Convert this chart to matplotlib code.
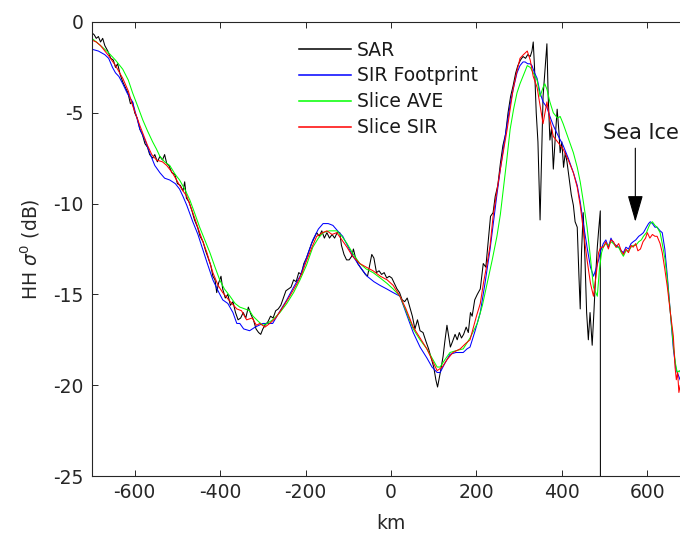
import numpy as np
import matplotlib
matplotlib.use('Agg')
from matplotlib import pyplot as plt

plt.rcParams['font.family'] = 'DejaVu Sans'
plt.rcParams['mathtext.fontset'] = 'dejavusans'
plt.rcParams['axes.unicode_minus'] = False

"""
Daten (abgelesen)
"""
# SAR
sar_km = [-700, -695, -690, -685, -680, -675, -670, -663, -656, -650, -645, -640, -634, -628, -622, -616,
          -610, -605, -600, -594, -588, -582, -576, -570, -565, -558, -553, -547, -541, -535, -530, -525,
          -520, -513, -506, -500, -493, -487, -483, -479, -473, -466, -460, -453, -447, -440, -434, -428,
          -422, -417, -412, -408, -404, -398, -394, -388, -382, -376, -370, -364, -358, -352, -346, -340,
          -334, -328, -322, -316, -310, -305, -300, -295, -288, -282, -276, -270, -264, -258, -252, -246,
          -240, -234, -228, -222, -216, -210, -204, -198, -192, -186, -180, -174, -168, -162, -156, -150,
          -144, -138, -132, -126, -120, -116, -110, -104, -98, -92, -88, -84, -78, -72, -66, -60,
          -55, -50, -45, -40, -34, -28, -22, -16, -10, -4, 2, 8, 14, 20, 26, 32,
          38, 44, 50, 56, 62, 68, 75, 82, 88, 94, 100, 105, 109, 113, 117, 122,
          126, 131, 135, 139, 144, 150, 155, 160, 165, 170, 176, 181, 186, 190, 196, 202,
          209, 216, 222, 228, 233, 239, 244, 250, 256, 262, 268, 274, 280, 286, 292, 297,
          303, 309, 315, 320, 326, 330, 333, 336, 340, 344, 349, 352, 356, 361, 365, 368,
          372, 376, 380, 385, 389, 393, 396, 400, 404, 408, 412, 417, 422, 427, 431, 436,
          440, 443, 446, 450, 454, 458, 462, 466, 471, 475, 479, 483, 486, 490, 490.5]
sar_db = [-0.6, -0.7, -0.9, -0.8, -1.1, -0.9, -1.3, -1.6, -2.0, -2.1, -2.5, -2.3, -2.9, -3.3, -3.6, -3.9,
          -4.5, -4.4, -5.0, -5.3, -5.9, -6.2, -6.7, -6.9, -7.3, -7.5, -7.3, -7.7, -7.4, -7.6, -7.3, -7.8,
          -7.9, -8.3, -8.4, -8.9, -9.0, -9.3, -8.8, -9.7, -9.9, -10.4, -10.9, -11.3, -11.8, -12.1, -12.6, -13.0,
          -13.4, -14.0, -14.2, -14.9, -14.4, -14.0, -14.7, -15.2, -15.0, -15.6, -15.4, -16.0, -16.4, -16.3, -16.0, -16.3,
          -15.7, -16.1, -16.4, -16.9, -17.1, -17.2, -16.9, -16.7, -16.5, -16.2, -16.3, -15.9, -15.8, -15.6, -15.2, -14.8,
          -14.7, -14.6, -14.2, -14.3, -13.8, -13.9, -13.3, -13.0, -12.6, -12.2, -11.9, -11.6, -11.8, -11.5, -11.9, -11.6,
          -11.9, -11.7, -11.9, -11.6, -11.6, -12.3, -12.8, -13.1, -13.1, -12.9, -12.5, -12.9, -13.3, -13.5, -13.7, -13.9,
          -14.0, -13.4, -12.8, -13.0, -13.8, -13.7, -13.9, -13.8, -14.1, -14.0, -14.1, -14.4, -14.7, -14.9, -15.3, -15.4,
          -15.2, -15.7, -16.2, -16.9, -16.4, -17.0, -17.1, -17.6, -18.0, -18.5, -19.0, -19.7, -20.1, -19.6, -19.1, -18.4,
          -17.6, -16.7, -17.3, -17.9, -17.6, -17.2, -17.5, -17.1, -17.4, -17.2, -16.8, -17.1, -16.0, -16.2, -15.3, -15.0,
          -14.7, -13.3, -13.5, -12.0, -10.7, -10.5, -9.6, -9.0, -7.8, -6.8, -6.2, -5.0, -4.1, -3.5, -2.8, -2.4,
          -2.1, -1.9, -2.0, -1.8, -1.9, -1.6, -1.1, -2.5, -5.0, -6.6, -10.9, -8.0, -4.1, -2.5, -1.2, -4.1,
          -6.5, -5.8, -8.1, -6.2, -4.8, -6.0, -7.2, -6.6, -8.0, -7.2, -7.7, -8.6, -9.5, -10.1, -11.0, -11.3,
          -14.0, -15.8, -12.7, -10.5, -13.0, -16.0, -17.5, -16.0, -17.8, -16.0, -14.0, -12.4, -11.5, -10.4, -40.0]

# SIR Footprint
fp_km = [-700, -685, -670, -661, -652, -645, -637, -628, -618, -605, -596, -588, -576, -565, -553, -541,
         -530, -518, -505, -495, -487, -478, -464, -452, -441, -430, -417, -405, -394, -382, -370, -361,
         -354, -345, -331, -318, -300, -284, -277, -262, -244, -228, -213, -198, -183, -170, -159, -147,
         -136, -125, -113, -100, -89, -72, -56, -40, -26, -10, 5, 21, 35, 52, 68, 84,
         96, 108, 115, 126, 138, 152, 169, 178, 185, 197, 209, 220, 232, 240, 248, 256,
         264, 272, 280, 288, 295, 302, 309, 314, 320, 326, 330, 336, 342, 349, 356, 365,
         372, 380, 390, 403, 415, 427, 436, 443, 451, 459, 467, 474, 480, 486, 491, 497,
         503, 509, 515, 521, 527, 533, 539, 544, 550, 556, 562, 567, 573, 580, 586, 591,
         598, 603, 607, 612, 618, 623, 630, 635, 641, 647, 654, 661, 667, 672, 677, 680]
fp_db = [-1.5, -1.6, -1.8, -2.0, -2.5, -2.8, -3.0, -3.4, -3.9, -4.4, -5.2, -5.9, -6.5, -7.2, -7.9, -8.3,
         -8.6, -8.7, -8.9, -9.2, -9.6, -10.1, -11.0, -11.7, -12.5, -13.3, -14.2, -14.8, -15.3, -15.5, -16.0, -16.6,
         -16.6, -16.9, -17.0, -16.8, -16.6, -16.6, -16.6, -16.0, -15.3, -14.6, -14.0, -13.0, -12.0, -11.4, -11.1, -11.1,
         -11.2, -11.5, -11.8, -12.4, -12.9, -13.5, -14.0, -14.3, -14.5, -14.7, -14.9, -15.1, -16.0, -17.1, -17.9, -18.5,
         -19.0, -19.3, -19.3, -18.8, -18.3, -18.2, -18.2, -18.0, -17.9, -17.0, -16.0, -14.4, -12.5, -11.0, -9.5, -8.1,
         -6.8, -5.6, -4.4, -3.5, -2.8, -2.4, -2.2, -2.2, -2.3, -2.3, -2.4, -2.8, -3.1, -3.9, -4.4, -4.7,
         -5.2, -5.7, -6.2, -6.8, -7.5, -8.3, -9.0, -9.9, -11.2, -12.4, -13.5, -14.0, -13.6, -13.1, -12.6, -12.2,
         -12.0, -12.4, -11.9, -12.2, -12.3, -12.4, -12.6, -12.7, -12.4, -12.5, -12.2, -12.1, -12.0, -11.8, -11.7, -11.6,
         -11.3, -11.1, -11.0, -11.1, -11.3, -11.3, -11.5, -11.6, -12.5, -14.0, -16.0, -18.0, -19.1, -19.4, -19.7, -19.9]

# Slice AVE
ave_km = [-700, -685, -675, -661, -645, -628, -615, -605, -592, -581, -570, -558, -549, -541, -530, -518,
          -505, -495, -483, -471, -460, -448, -436, -424, -412, -401, -390, -377, -365, -354, -342, -331,
          -323, -310, -300, -290, -277, -260, -244, -228, -213, -198, -183, -170, -159, -145, -127, -115,
          -103, -88, -73, -58, -42, -25, -9, 5, 21, 35, 52, 68, 84, 96,
          108, 115, 126, 138, 152, 169, 185, 202, 214, 225, 237, 248, 256, 263, 271, 279,
          287, 295, 302, 309, 314, 319, 326, 333, 342, 349, 356, 360, 365, 372, 380, 390,
          396, 403, 415, 427, 436, 443, 451, 459, 467, 474, 483, 488, 493, 497, 503, 509,
          515, 521, 527, 533, 539, 544, 550, 556, 562, 567, 573, 580, 586, 591, 598, 603,
          607, 612, 618, 623, 630, 635, 641, 647, 654, 661, 666, 670, 675, 680]
ave_db = [-0.9, -1.2, -1.4, -1.7, -2.1, -2.6, -3.2, -3.9, -4.7, -5.4, -6.0, -6.6, -7.0, -7.4, -7.7, -7.9,
          -8.4, -8.7, -9.2, -9.8, -10.5, -11.3, -12.0, -12.7, -13.5, -14.2, -14.7, -15.1, -15.5, -15.7, -15.8, -15.9,
          -16.2, -16.5, -16.7, -16.6, -16.4, -16.0, -15.5, -14.9, -14.2, -13.4, -12.4, -11.9, -11.6, -11.5, -11.5, -11.8,
          -12.2, -12.8, -13.3, -13.6, -13.8, -14.1, -14.4, -14.7, -15.1, -15.9, -16.9, -17.5, -18.0, -18.5,
          -19.0, -19.0, -18.6, -18.2, -18.1, -18.0, -17.4, -16.6, -15.6, -14.4, -13.1, -11.8, -10.6, -9.2, -7.6, -5.9,
          -4.8, -3.9, -3.4, -3.0, -2.7, -2.4, -2.5, -2.8, -3.2, -4.1, -3.6, -3.4, -3.7, -4.4, -5.0, -5.3,
          -5.2, -5.6, -6.4, -7.2, -8.0, -8.8, -10.0, -11.3, -13.0, -14.6, -15.1, -13.6, -12.7, -12.4, -12.2, -12.3,
          -12.1, -12.2, -12.4, -12.4, -12.7, -12.9, -12.6, -12.6, -12.4, -12.3, -12.3, -12.1, -12.0, -11.8, -11.6, -11.3,
          -11.1, -11.0, -11.2, -11.3, -11.6, -12.2, -13.0, -14.2, -16.0, -17.8, -18.8, -19.3, -19.2, -19.4]

# Slice SIR
sir_km = [-700, -690, -680, -661, -645, -628, -615, -605, -588, -570, -560, -549, -535, -525, -512, -502,
          -490, -478, -464, -448, -431, -417, -405, -394, -380, -361, -350, -338, -325, -315, -307, -295,
          -284, -270, -253, -237, -220, -208, -197, -185, -174, -160, -150, -138, -127, -115, -103, -90,
          -73, -58, -42, -25, -9, 5, 21, 35, 52, 68, 84, 96, 108, 120,
          131, 145, 162, 175, 185, 192, 200, 209, 217, 225, 232, 239, 248, 256, 264, 272,
          279, 286, 294, 302, 310, 319, 326, 333, 342, 349, 356, 365, 372, 380, 390, 403,
          415, 427, 436, 443, 451, 459, 467, 474, 480, 486, 491, 497, 503, 509, 515, 521,
          527, 533, 539, 544, 550, 556, 562, 567, 573, 578, 584, 590, 596, 600, 606, 612,
          618, 623, 630, 635, 641, 647, 654, 661, 665, 668, 671, 674, 677, 680]
sir_db = [-1.0, -1.1, -1.3, -1.86, -2.4, -3.1, -3.8, -4.6, -5.7, -6.8, -7.3, -7.6, -7.7, -7.9, -8.3, -8.7,
          -9.2, -9.6, -10.5, -11.6, -12.7, -13.8, -14.5, -14.9, -15.3, -15.8, -15.9, -16.4, -16.3, -16.7, -16.6, -16.8,
          -16.6, -16.3, -15.7, -15.1, -14.4, -13.8, -13.1, -12.4, -11.8, -11.6, -11.5, -11.7, -11.6, -12.0, -12.4, -12.9,
          -13.3, -13.5, -13.7, -14.0, -14.2, -14.5, -15.1, -15.8, -16.8, -17.4, -18.0, -18.6, -19.2, -19.0,
          -18.6, -18.2, -18.0, -17.7, -17.5, -16.9, -16.2, -15.5, -14.3, -13.3, -12.3, -10.7, -9.3, -8.1, -7.0, -5.9,
          -4.8, -3.7, -2.8, -2.0, -1.8, -1.6, -2.1, -3.0, -3.6, -4.6, -5.6, -4.4, -5.4, -6.3, -6.6, -7.0,
          -7.6, -8.3, -9.1, -10.1, -11.6, -13.1, -14.4, -15.1, -14.0, -12.7, -12.4, -12.4, -12.1, -12.5, -12.0, -12.1,
          -12.4, -12.2, -12.6, -12.8, -12.5, -12.7, -12.3, -12.4, -12.2, -12.6, -12.5, -12.1, -11.9, -11.6, -11.9, -11.7,
          -11.8, -11.8, -12.2, -12.7, -13.6, -14.6, -16.0, -17.3, -19.0, -19.7, -19.3, -20.4, -20.0, -21.0]

labels = ['SAR', 'SIR Footprint', 'Slice AVE', 'Slice SIR']
x_ticks = [-600, -400, -200, 0, 200, 400, 600]
y_ticks = [0, -5, -10, -15, -20, -25]

"""
Plot
"""
fs = 13.5
fig = plt.figure(figsize=(6.8, 5.33), dpi=100)
# Achse ragt rechts etwas aus dem Bild heraus (wie im Original)
ax = fig.add_axes([92 / 680, 57 / 533, 598 / 680, 454 / 533])

ax.plot(sar_km, sar_db, color='k', lw=0.75, label=labels[0])
ax.plot(fp_km, fp_db, color=(0, 0, 1), lw=0.75, label=labels[1])
ax.plot(ave_km, ave_db, color=(0, 1, 0), lw=0.75, label=labels[2])
ax.plot(sir_km, sir_db, color=(1, 0, 0), lw=0.75, label=labels[3])

ax.set_xlim(-700, 700)
ax.set_ylim(-25, 0)
ax.set_xticks(x_ticks)
ax.set_yticks(y_ticks)
ax.tick_params(direction='in', length=4.3, width=0.7, colors='0.15', labelsize=fs,
               top=True, right=True, pad=6)
ax.tick_params(axis='x', pad=5)
for sp in ax.spines.values():
    sp.set_color('0.15')
    sp.set_linewidth(0.8)

ax.set_xlabel('km', fontsize=fs, color='0.15', labelpad=9)
ax.set_ylabel(r'HH $\sigma^0$ (dB)', fontsize=fs, color='0.15', labelpad=8)

# Sea Ice Markierung
ax.text(497, -6.1, 'Sea Ice', fontsize=15, ha='left', va='center', color='0.1')
ax.annotate('', xy=(572, -11.0), xytext=(572, -6.95),
            arrowprops=dict(arrowstyle='-|>,head_length=1.66,head_width=0.48',
                            mutation_scale=10, color='k', lw=0.8,
                            shrinkA=0, shrinkB=0))

leg = ax.legend(loc='upper left', bbox_to_anchor=(291 / 680, 1 - 33 / 533),
                bbox_transform=fig.transFigure, frameon=False, fontsize=fs,
                handlelength=2.8, handletextpad=0.32, labelspacing=0.37,
                borderpad=0.4, borderaxespad=0)
for t in leg.get_texts():
    t.set_color('0.1')
for ln in leg.get_lines():
    ln.set_linewidth(1.1)

fig.savefig('out.png', dpi=100)
